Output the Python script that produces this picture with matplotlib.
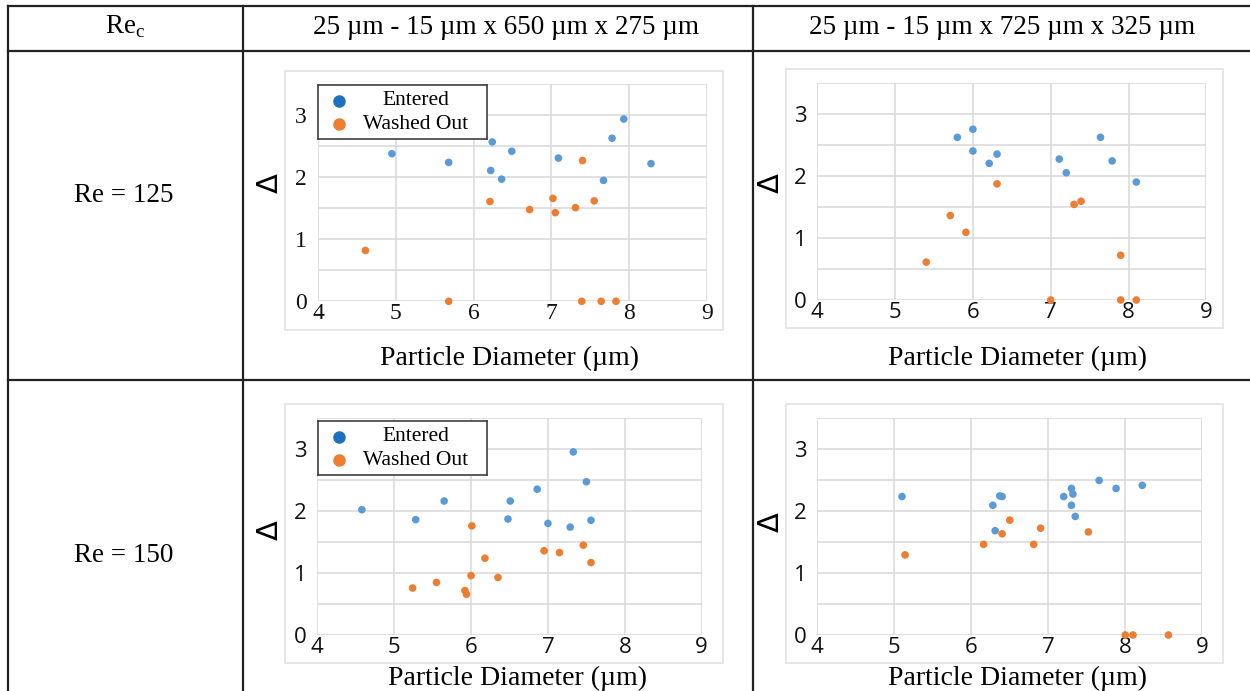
import matplotlib
matplotlib.use("Agg")
import matplotlib.pyplot as plt
from matplotlib.lines import Line2D
from matplotlib.patches import Rectangle

# ---------------- data ----------------
corner_label = "Re$_\\mathregular{c}$"
row_labels = ["Re = 125", "Re = 150"]
col_labels = ["25 µm - 15 µm x 650 µm x 275 µm", "25 µm - 15 µm x 725 µm x 325 µm"]
series_names = ["Entered", "Washed Out"]
x_label = "Particle Diameter (µm)"
y_label = "Δ"
x_ticks = [4, 5, 6, 7, 8, 9]
y_ticks = [0, 1, 2, 3]

# Re = 125, 650 x 275
r1c1_entered_x = [4.95, 5.68, 6.24, 6.22, 6.36, 6.49, 7.09, 7.67, 7.78, 7.93, 8.28]
r1c1_entered_y = [2.38, 2.24, 2.57, 2.11, 1.97, 2.42, 2.31, 1.95, 2.63, 2.94, 2.22]
r1c1_washed_x = [4.61, 5.68, 6.21, 6.72, 7.02, 7.05, 7.31, 7.40, 7.55, 7.39, 7.64, 7.83]
r1c1_washed_y = [0.82, 0.00, 1.61, 1.48, 1.66, 1.43, 1.51, 2.27, 1.62, 0.00, 0.00, 0.00]

# Re = 125, 725 x 325
r1c2_entered_x = [5.80, 6.00, 6.00, 6.21, 6.31, 7.11, 7.20, 7.64, 7.79, 8.10]
r1c2_entered_y = [2.62, 2.75, 2.40, 2.20, 2.35, 2.27, 2.05, 2.62, 2.24, 1.90]
r1c2_washed_x = [5.40, 5.71, 5.91, 6.31, 7.00, 7.30, 7.39, 7.90, 7.90, 8.10]
r1c2_washed_y = [0.61, 1.36, 1.09, 1.87, 0.00, 1.54, 1.59, 0.72, 0.00, 0.00]

# Re = 150, 650 x 275
r2c1_entered_x = [4.58, 5.28, 5.65, 6.51, 6.48, 6.86, 7.00, 7.33, 7.29, 7.50, 7.56]
r2c1_entered_y = [2.02, 1.86, 2.16, 2.16, 1.87, 2.35, 1.80, 2.95, 1.74, 2.47, 1.85]
r2c1_washed_x = [5.24, 5.55, 5.92, 5.94, 6.00, 6.01, 6.18, 6.35, 6.95, 7.15, 7.46, 7.56]
r2c1_washed_y = [0.76, 0.85, 0.72, 0.66, 0.96, 1.76, 1.24, 0.93, 1.36, 1.33, 1.45, 1.17]

# Re = 150, 725 x 325
r2c2_entered_x = [5.10, 6.28, 6.31, 6.37, 6.40, 7.20, 7.30, 7.32, 7.30, 7.35, 7.66, 7.88, 8.22]
r2c2_entered_y = [2.23, 2.09, 1.68, 2.24, 2.23, 2.23, 2.36, 2.27, 2.09, 1.91, 2.49, 2.36, 2.41]
r2c2_washed_x = [5.14, 6.16, 6.40, 6.50, 6.81, 6.90, 7.52, 8.00, 8.10, 8.56]
r2c2_washed_y = [1.29, 1.46, 1.63, 1.85, 1.46, 1.72, 1.66, 0.00, 0.00, 0.00]

# ---------------- styling ----------------
W, H = 1250, 691
SERIF = ["Liberation Serif", "DejaVu Serif"]
SANS = ["Open Sans", "DejaVu Sans"]
BLUE = "#5B9BD5"
ORANGE = "#ED7D31"
LEG_BLUE = "#1F6FBF"
GRID = "#D9D9D9"
LINE = "#222222"

fig = plt.figure(figsize=(W / 100, H / 100), dpi=100)
fig.patch.set_facecolor("white")


def fx(px):
    return px / W


def fy(py):
    return 1 - py / H


def hline(y, x0, x1):
    fig.add_artist(Line2D([fx(x0), fx(x1)], [fy(y), fy(y)], color=LINE, lw=1.6,
                          transform=fig.transFigure))


def vline(x, y0, y1):
    fig.add_artist(Line2D([fx(x), fx(x)], [fy(y0), fy(y1)], color=LINE, lw=1.6,
                          transform=fig.transFigure))


# table lines
hline(6, 8, 1252)
hline(51, 8, 1252)
hline(380, 8, 1252)
vline(8, 6, 692)
vline(243, 6, 692)
vline(753, 6, 692)

# header texts
fig.text(fx(125), fy(27), corner_label, ha="center", va="center", fontsize=19.5,
         family=SERIF)
fig.text(fx(506), fy(27), col_labels[0], ha="center", va="center", fontsize=19.5,
         family=SERIF)
fig.text(fx(1002), fy(27), col_labels[1], ha="center", va="center", fontsize=19.5,
         family=SERIF)
fig.text(fx(124), fy(195), row_labels[0], ha="center", va="center", fontsize=19.5,
         family=SERIF)
fig.text(fx(124), fy(556), row_labels[1], ha="center", va="center", fontsize=19.5,
         family=SERIF)

panels = [
    dict(ex=r1c1_entered_x, ey=r1c1_entered_y, wx=r1c1_washed_x, wy=r1c1_washed_y,
         chart=(285, 71, 723, 330), plot=(318, 84.3, 707, 301.3), xl=(510, 358),
         yl=(270, 183), legend=(318, 85, 487, 139), tickfont=SERIF, ypad=8, tfs=17),
    dict(ex=r1c2_entered_x, ey=r1c2_entered_y, wx=r1c2_washed_x, wy=r1c2_washed_y,
         chart=(786, 69, 1223, 328), plot=(817.3, 82.7, 1206.3, 300), xl=(1017, 358),
         yl=(771, 183), legend=None, tickfont=SANS, ypad=7.5, tfs=16),
    dict(ex=r2c1_entered_x, ey=r2c1_entered_y, wx=r2c1_washed_x, wy=r2c1_washed_y,
         chart=(285, 404, 723, 663), plot=(317.3, 417.7, 701.7, 635.3), xl=(517, 678),
         yl=(270, 530), legend=(317.7, 421, 486.7, 475), tickfont=SANS, ypad=8, tfs=16),
    dict(ex=r2c2_entered_x, ey=r2c2_entered_y, wx=r2c2_washed_x, wy=r2c2_washed_y,
         chart=(786, 404, 1223, 663), plot=(817.3, 417.7, 1202.3, 635), xl=(1017, 678),
         yl=(771, 522), legend=None, tickfont=SANS, ypad=7.5, tfs=16),
]

for p in panels:
    cx0, cy0, cx1, cy1 = p["chart"]
    fig.add_artist(Rectangle((fx(cx0), fy(cy1)), fx(cx1) - fx(cx0), fy(cy0) - fy(cy1),
                             transform=fig.transFigure, fill=False, edgecolor="#E3E3E3",
                             lw=1.2))
    x0, y0, x1, y1 = p["plot"]
    ax = fig.add_axes([fx(x0), fy(y1), fx(x1) - fx(x0), fy(y0) - fy(y1)])
    ax.set_xlim(4, 9)
    ax.set_ylim(0, 3.5)
    ax.set_xticks(x_ticks)
    ax.set_yticks(y_ticks)
    ax.set_yticks([0.5, 1.5, 2.5, 3.5], minor=True)
    ax.grid(True, which="both", color=GRID, lw=1.1)
    ax.set_axisbelow(True)
    for s in ax.spines.values():
        s.set_visible(False)
    ax.tick_params(which="both", length=0)
    ax.tick_params(axis="x", pad=1.5)
    ax.tick_params(axis="y", pad=p["ypad"])
    for lab in ax.get_xticklabels() + ax.get_yticklabels():
        lab.set_family(p["tickfont"])
        lab.set_fontsize(p["tfs"])
        lab.set_color("#111111")
    ax.scatter(p["ex"], p["ey"], s=30, color=BLUE, edgecolors="none", clip_on=False,
               zorder=3)
    ax.scatter(p["wx"], p["wy"], s=30, color=ORANGE, edgecolors="none", clip_on=False,
               zorder=3)
    fig.text(fx(p["xl"][0]), fy(p["xl"][1]), x_label, ha="center", va="center",
             fontsize=20, family=SERIF)
    fig.text(fx(p["yl"][0]), fy(p["yl"][1]), y_label, ha="center", va="center",
             fontsize=21, rotation=90, family=["DejaVu Sans"])
    if p["legend"]:
        lx0, ly0, lx1, ly1 = p["legend"]
        lax = fig.add_axes([fx(lx0), fy(ly1), fx(lx1) - fx(lx0), fy(ly0) - fy(ly1)])
        lax.set_xlim(0, 1)
        lax.set_ylim(0, 1)
        lax.set_xticks([])
        lax.set_yticks([])
        lax.patch.set_facecolor("white")
        for s in lax.spines.values():
            s.set_color("#404040")
            s.set_linewidth(1.2)
        for name, col, yy in zip(series_names, [LEG_BLUE, ORANGE], [0.71, 0.27]):
            lax.plot([0.124], [yy], marker="o", ms=8, color=col, ls="none")
            lax.text(0.58, yy, name, ha="center", va="center", fontsize=15.5,
                     family=SERIF)

fig.savefig("out.png", dpi=100, facecolor="white")
